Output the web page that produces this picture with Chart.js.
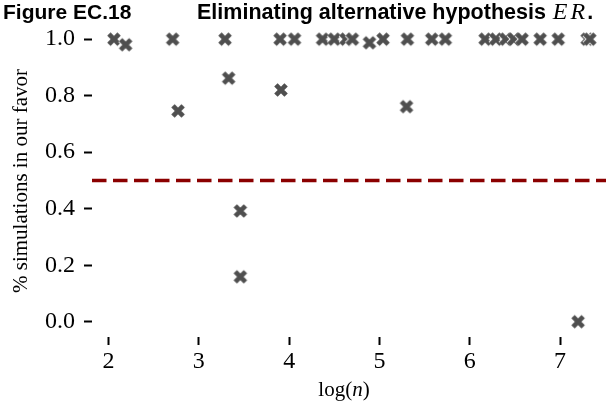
<!DOCTYPE html>
<html>
<head>
<meta charset="utf-8">
<script src="https://cdn.jsdelivr.net/npm/chart.js@4/dist/chart.umd.min.js"></script>
<style>
  body { margin: 0; background: #fff; }
  canvas { display: block; }
</style>
</head>
<body>
<canvas id="chart" width="606" height="416"></canvas>
<script>
// log(n) and share of simulations that favour us, one entry per run
const logN = [
  2.06, 2.19, 2.71, 2.77, 3.29, 3.33, 3.46, 3.46, 3.90, 3.91,
  4.06, 4.37, 4.50, 4.63, 4.70, 4.89, 5.04, 5.30, 5.31, 5.58,
  5.73, 6.17, 6.29, 6.40, 6.49, 6.58, 6.78, 6.98, 7.20, 7.30, 7.33
];
const share = [
  1.0, 0.98, 1.0, 0.746, 1.0, 0.862, 0.392, 0.159, 1.0, 0.82,
  1.0, 1.0, 1.0, 1.0, 1.0, 0.987, 1.0, 0.761, 1.0, 1.0,
  1.0, 1.0, 1.0, 1.0, 1.0, 1.0, 1.0, 1.0, 0.0, 1.0, 1.0
];
const threshold = 0.5;
const xTicks = [2, 3, 4, 5, 6, 7];
const yTicks = [0.0, 0.2, 0.4, 0.6, 0.8, 1.0];
const xRange = [1.817, 7.509];
const yRange = [-0.054, 1.05];

const SERIF = '"Liberation Serif", "Times New Roman", serif';
const SANS = '"Liberation Sans", Arial, sans-serif';

// filled X marker with a thin white edge
function makeMarker() {
  const c = document.createElement('canvas');
  c.width = 22; c.height = 22;
  const g = c.getContext('2d');
  const d = 7.2 * 0.707;
  g.translate(11, 11);
  g.lineCap = 'butt';
  const arms = () => {
    g.beginPath();
    g.moveTo(-d, -d); g.lineTo(d, d);
    g.moveTo(-d, d); g.lineTo(d, -d);
    g.stroke();
  };
  g.strokeStyle = '#fff'; g.lineWidth = 6.4; arms();
  g.strokeStyle = '#4f4f4f'; g.lineWidth = 4.8; arms();
  return c;
}

const titlePlugin = {
  id: 'figureText',
  afterDraw(chart) {
    const ctx = chart.ctx;
    ctx.save();
    ctx.fillStyle = '#000';
    ctx.textBaseline = 'alphabetic';
    ctx.textAlign = 'left';
    ctx.font = 'bold 21px ' + SANS;
    ctx.fillText('Figure EC.18', 3, 19);
    let x = 197;
    const head = 'Eliminating alternative hypothesis ';
    ctx.font = 'bold 21.5px ' + SANS;
    ctx.fillText(head, x, 19);
    x += ctx.measureText(head).width + 1;
    // math-italic ER, letters set a little apart
    ctx.font = 'italic 24px ' + SERIF;
    ctx.fillText('E', x, 19);
    x += ctx.measureText('E').width + 3;
    ctx.fillText('R', x, 19);
    x += ctx.measureText('R').width + 2;
    ctx.font = 'bold 21.5px ' + SANS;
    ctx.fillText('.', x, 19);

    // x axis title: log(n) with italic n
    const parts = [['log(', '21px ' + SERIF], ['n', 'italic 21px ' + SERIF], [')', '21px ' + SERIF]];
    let w = 0;
    parts.forEach(p => { ctx.font = p[1]; w += ctx.measureText(p[0]).width; });
    let tx = 344 - w / 2;
    parts.forEach(p => {
      ctx.font = p[1];
      ctx.fillText(p[0], tx, 396);
      tx += ctx.measureText(p[0]).width;
    });
    ctx.restore();
  }
};

const markerImg = makeMarker();

new Chart(document.getElementById('chart'), {
  type: 'scatter',
  data: {
    datasets: [
      {
        type: 'line',
        data: [{ x: xRange[0], y: threshold }, { x: xRange[1], y: threshold }],
        borderColor: '#8b0000',
        borderWidth: 3.5,
        borderDash: [14.5, 6.5],
        pointRadius: 0,
        order: 2
      },
      {
        data: logN.map((v, i) => ({ x: v, y: share[i] })),
        pointStyle: markerImg,
        pointRadius: 8,
        clip: false,
        order: 1
      }
    ]
  },
  options: {
    responsive: false,
    animation: false,
    layout: { autoPadding: false, padding: { top: 25, left: 0, right: 0, bottom: 0 } },
    plugins: { legend: { display: false }, tooltip: { enabled: false } },
    scales: {
      x: {
        type: 'linear',
        min: xRange[0],
        max: xRange[1],
        afterBuildTicks: s => { s.ticks = xTicks.map(v => ({ value: v })); },
        afterFit: s => { s.height = 79; s.paddingLeft = 0; s.paddingRight = 0; },
        border: { display: false },
        grid: { drawOnChartArea: false, tickLength: 8, tickWidth: 2, tickColor: '#000' },
        ticks: { color: '#000', font: { family: SERIF, size: 24 }, padding: 2, maxRotation: 0 }
      },
      y: {
        type: 'linear',
        min: yRange[0],
        max: yRange[1],
        afterBuildTicks: s => { s.ticks = yTicks.map(v => ({ value: v })); },
        afterFit: s => { s.width = 92; s.paddingTop = 0; s.paddingBottom = 0; },
        border: { display: false },
        grid: { drawOnChartArea: false, tickLength: 8, tickWidth: 2, tickColor: '#000' },
        ticks: { color: '#000', font: { family: SERIF, size: 24 }, padding: 9,
                 callback: v => v.toFixed(1) },
        title: { display: true, text: '% simulations in our favor', color: '#000',
                 font: { family: SERIF, size: 21 }, padding: { top: 9, bottom: 0 } }
      }
    }
  },
  plugins: [titlePlugin]
});
</script>
</body>
</html>
